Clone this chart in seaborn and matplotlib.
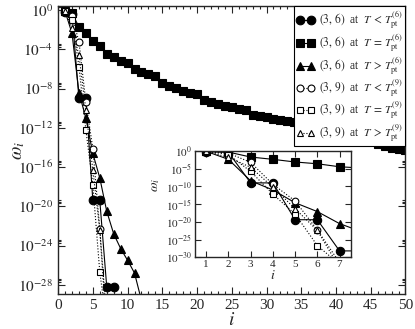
import numpy as np
import matplotlib
matplotlib.use('Agg')
import matplotlib.pyplot as plt
import matplotlib.ticker as mticker
import seaborn as sns

sns.set_style('ticks')
plt.rcParams['font.family'] = ['Liberation Serif', 'DejaVu Serif']
plt.rcParams['mathtext.fontset'] = 'stix'

# log10 of omega_i
i_36 = [1, 2, 3, 4, 5, 6, 7, 8]
lt_36 = [-0.2, -0.35, -9.0, -9.0, -19.4, -19.4, -28.2, -28.2]

i_eq36 = list(range(1, 51))
eq_36 = [-0.1, -0.3, -1.7, -2.35, -3.1, -3.6, -4.45, -4.8, -5.2, -5.4,
         -6.0, -6.3, -6.5, -6.7, -7.4, -7.7, -7.9, -8.2, -8.4, -8.5,
         -9.2, -9.4, -9.6, -9.8, -9.9, -10.1, -10.2, -10.7, -10.8, -10.9,
         -11.1, -11.2, -11.3, -11.4, -11.6, -11.7, -11.9, -12.0, -12.2, -12.4,
         -12.6, -12.8, -13.0, -13.1, -13.3, -13.6, -13.8, -14.0, -14.2, -14.3]

i_gt36 = [1, 2, 3, 4, 5, 6, 7, 8, 9, 10, 11, 12]
gt_36 = [-0.1, -2.35, -8.4, -11.0, -14.6, -17.1, -20.5, -22.8, -24.3, -25.5, -26.8, -29.6]

i_39 = [1, 2, 3, 4, 5, 6, 7]
lt_39 = [-0.05, -0.6, -3.2, -9.4, -14.1, -22.3, -31.5]
eq_39 = [-0.05, -1.0, -5.75, -12.2, -17.8, -26.7, -32.0]
gt_39 = [-0.05, -1.8, -4.6, -10.2, -16.3, -22.4, -33.0]

series = [
    (i_36, lt_36, 'o', True, r'$(3,\,6)$  at  $T\,<\,T_{\rm pt}^{(6)}$'),
    (i_eq36, eq_36, 's', True, r'$(3,\,6)$  at  $T\,=\,T_{\rm pt}^{(6)}$'),
    (i_gt36, gt_36, '^', True, r'$(3,\,6)$  at  $T\,>\,T_{\rm pt}^{(6)}$'),
    (i_39, lt_39, 'o', False, r'$(3,\,9)$  at  $T\,<\,T_{\rm pt}^{(9)}$'),
    (i_39, eq_39, 's', False, r'$(3,\,9)$  at  $T\,=\,T_{\rm pt}^{(9)}$'),
    (i_39, gt_39, '^', False, r'$(3,\,9)$  at  $T\,>\,T_{\rm pt}^{(9)}$'),
]

fig = plt.figure(figsize=(4.15, 3.29), dpi=100)
ax = fig.add_axes([0.140, 0.106, 0.837, 0.876])
ins = fig.add_axes([0.470, 0.218, 0.375, 0.323])


def draw(a, xs, ys, mk, filled, label, ms):
    sns.lineplot(x=xs, y=np.power(10.0, ys), ax=a, color='black',
                 marker=mk, markersize=ms if filled else ms * 0.8,
                 markerfacecolor='black' if filled else 'white',
                 markeredgecolor='black', markeredgewidth=0.8,
                 linestyle='-' if filled else ':',
                 linewidth=0.8, label=label, legend=False, clip_on=True)


for xs, ys, mk, filled, label in series:
    draw(ax, xs, ys, mk, filled, label, 6.2)
    draw(ins, xs, ys, mk, filled, None, 6)

# main axes
ax.set_yscale('log')
ax.set_xlim(0, 50)
ax.set_ylim(10 ** -28.95, 10 ** 0.44)
ax.xaxis.set_major_locator(mticker.MultipleLocator(5))
ax.xaxis.set_minor_locator(mticker.MultipleLocator(1))
ax.yaxis.set_major_locator(mticker.FixedLocator([10.0 ** -k for k in range(0, 29, 4)]))
ax.yaxis.set_minor_locator(mticker.FixedLocator(
    [m * 10.0 ** -k for k in range(0, 29, 4) for m in (2, 3, 4)]))
ax.yaxis.set_major_formatter(mticker.FuncFormatter(
    lambda v, p: r'$10^{%d}$' % round(np.log10(v))))
ax.tick_params(which='both', direction='in', top=True, right=True, labelsize=11)
ax.tick_params(which='major', length=5, width=0.8)
ax.tick_params(which='minor', length=2.5, width=0.8)
ax.set_xlabel(r'$i$', fontsize=14, labelpad=0)
ax.set_ylabel(r'$\omega_i$', fontsize=14)
ax.yaxis.set_label_coords(-0.09, 0.5)
for s in ax.spines.values():
    s.set_linewidth(1.0)

leg = ax.legend(loc='upper right', borderaxespad=0, numpoints=2,
                handlelength=1.5, handletextpad=0.4, fontsize=8.3,
                fancybox=False, frameon=True, edgecolor='black',
                facecolor='white', framealpha=1,
                labelspacing=0.08, borderpad=0.25)
leg.get_frame().set_linewidth(0.8)
leg.set_zorder(5)

# inset
ins.set_yscale('log')
ins.set_xlim(0.5, 7.5)
ins.set_ylim(1e-30, 1)
ins.xaxis.set_major_locator(mticker.FixedLocator([1, 2, 3, 4, 5, 6, 7]))
ins.yaxis.set_major_locator(mticker.FixedLocator([10.0 ** -k for k in range(0, 31, 5)]))
ins.yaxis.set_minor_locator(mticker.NullLocator())
ins.yaxis.set_major_formatter(mticker.FuncFormatter(
    lambda v, p: r'$10^{%d}$' % round(np.log10(v))))
ins.tick_params(which='both', direction='in', top=True, right=True,
                labelsize=8, length=4, width=0.8, pad=2)
ins.set_xlabel(r'$i$', fontsize=10, labelpad=0)
ins.set_ylabel(r'$\omega_i$', fontsize=10)
ins.yaxis.set_label_coords(-0.21, 0.68)
for s in ins.spines.values():
    s.set_linewidth(1.0)

fig.savefig('out.png', dpi=100)
